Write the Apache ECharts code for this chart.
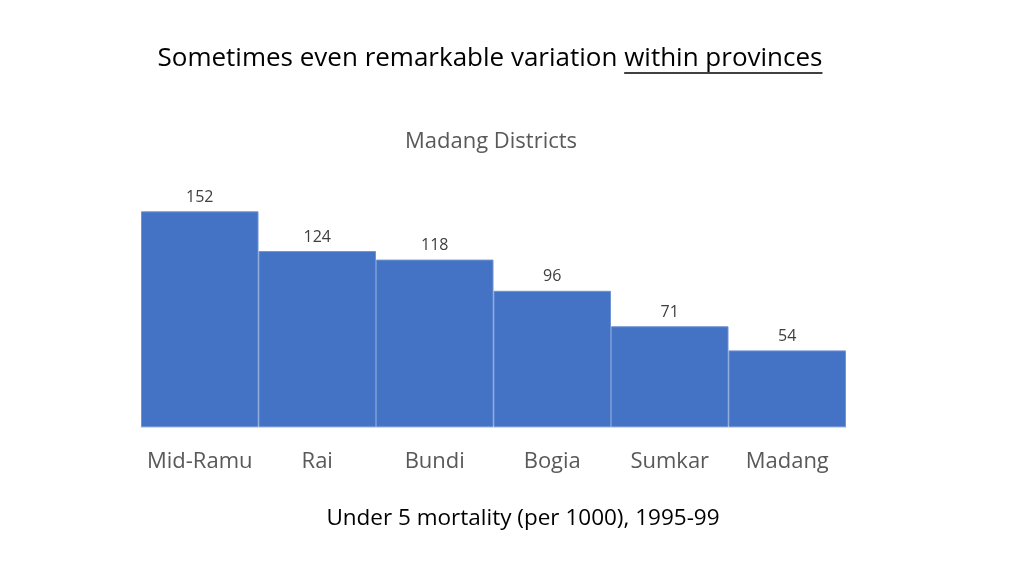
<!DOCTYPE html>
<html>
<head>
<meta charset="utf-8">
<script src="https://cdn.jsdelivr.net/npm/echarts@6/dist/echarts.min.js"></script>
<style>html,body{margin:0;padding:0;background:#fff;}#c{width:1024px;height:576px;}</style>
</head>
<body>
<div id="c"></div>
<script>
const categories = ['Mid-Ramu', 'Rai', 'Bundi', 'Bogia', 'Sumkar', 'Madang'];
const values = [152, 124, 118, 96, 71, 54];
const titleMain = 'Sometimes even remarkable variation ';
const titleUnderlined = 'within provinces';
const chartTitle = 'Madang Districts';
const axisTitle = 'Under 5 mortality (per 1000), 1995-99';

const FONT = '"Open Sans", sans-serif';
const TITLE_SIZE = 26;
const ctx = document.createElement('canvas').getContext('2d');
ctx.font = TITLE_SIZE + 'px ' + FONT;
const wMain = ctx.measureText(titleMain).width;
const wU = ctx.measureText(titleUnderlined).width;
const tCenter = 490;
const tLeft = tCenter - (wMain + wU) / 2;
const tTop = 46;

const chart = echarts.init(document.getElementById('c'));
chart.setOption({
  backgroundColor: '#ffffff',
  animation: false,
  title: [
    {
      text: chartTitle, left: 486, top: 126, textAlign: 'center',
      textStyle: { fontFamily: FONT, fontSize: 22, color: '#595959', fontWeight: 'normal' }
    },
    {
      text: axisTitle, left: 518, top: 502, textAlign: 'center',
      textStyle: { fontFamily: FONT, fontSize: 22.5, color: '#000000', fontWeight: 'normal' }
    }
  ],
  grid: { left: 141, right: 178, top: 200, bottom: 149, containLabel: false },
  xAxis: {
    type: 'category', data: categories,
    axisLine: { show: true, lineStyle: { color: '#d9d9d9' } },
    axisTick: { show: false },
    axisLabel: { interval: 0, fontFamily: FONT, fontSize: 22, color: '#595959', margin: 24 }
  },
  yAxis: {
    type: 'value', min: 0, max: 160, interval: 20, show: false,
    splitLine: { show: false }
  },
  series: [{
    type: 'bar', data: values, barCategoryGap: '0%',
    itemStyle: { color: '#4472C4', borderColor: '#6f93d3', borderWidth: 1 },
    label: { show: true, position: 'top', distance: 6, fontFamily: FONT, fontSize: 16, color: '#404040' }
  }],
  graphic: [
    { type: 'text', left: tLeft, top: tTop,
      style: { text: titleMain, font: TITLE_SIZE + 'px ' + FONT, fill: '#000000' } },
    { type: 'text', left: tLeft + wMain, top: tTop,
      style: { text: titleUnderlined, font: TITLE_SIZE + 'px ' + FONT, fill: '#000000' } },
    { type: 'line', shape: { x1: tLeft + wMain, y1: 73, x2: tLeft + wMain + wU, y2: 73 },
      style: { stroke: '#000000', lineWidth: 1.5 } }
  ]
});
</script>
</body>
</html>
